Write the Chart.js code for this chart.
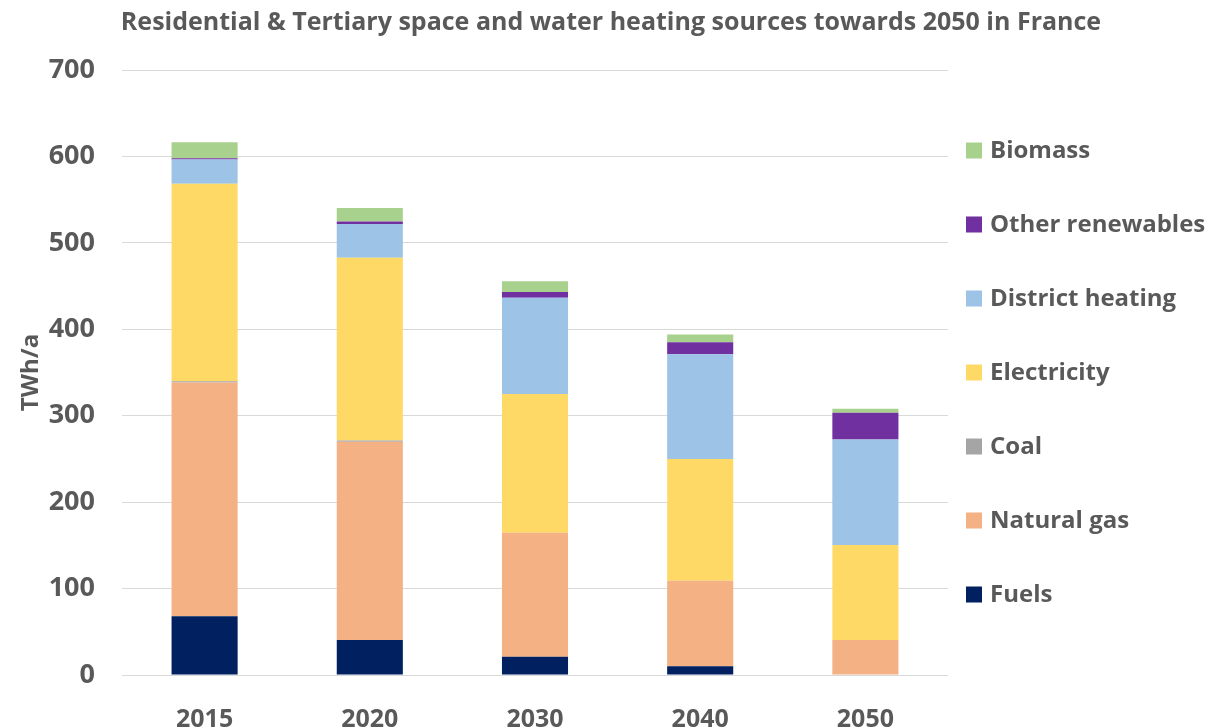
<!DOCTYPE html>
<html>
<head>
<meta charset="utf-8">
<script src="https://cdn.jsdelivr.net/npm/chart.js@4.4.1/dist/chart.umd.min.js"></script>
<style>
  html, body { margin: 0; padding: 0; background: #fff; }
  #wrap { width: 1222px; height: 728px; }
</style>
</head>
<body>
<div id="wrap"><canvas id="heatChart" width="1222" height="728"></canvas></div>
<script>
// values (TWh/a)
const years = ['2015', '2020', '2030', '2040', '2050'];
const fuels = [68, 40.5, 21, 10, 0];
const naturalGas = [270.5, 229.5, 143.5, 99, 40.5];
const coal = [1.5, 1.2, 0, 0, 0];
const electricity = [228.5, 211.5, 160.5, 141, 110];
const districtHeating = [28, 39, 111.5, 121, 122];
const otherRenewables = [1.5, 3, 6.5, 14, 31];
const biomass = [18.5, 15.5, 12.5, 9, 4.5];

const textColor = '#595959';
const font = 'Open Sans';

const series = [
    { label: 'Fuels', data: fuels, color: '#002060' },
    { label: 'Natural gas', data: naturalGas, color: '#F4B183' },
    { label: 'Coal', data: coal, color: '#A5A5A5' },
    { label: 'Electricity', data: electricity, color: '#FFD966' },
    { label: 'District heating', data: districtHeating, color: '#9DC3E6' },
    { label: 'Other renewables', data: otherRenewables, color: '#7030A0' },
    { label: 'Biomass', data: biomass, color: '#A9D18E' }
];

// legend on the right, top item = last series, drawn by hand to match spacing
const sideLegend = {
    id: 'sideLegend',
    afterDraw(chart) {
        const ctx = chart.ctx;
        const area = chart.chartArea;
        const sets = chart.data.datasets.slice().reverse();
        const mid = (area.top + area.bottom) / 2;
        const step = 74;
        ctx.save();
        ctx.font = 'bold 24px "' + font + '"';
        ctx.textBaseline = 'middle';
        ctx.textAlign = 'left';
        sets.forEach((ds, i) => {
            const y = mid + (i - (sets.length - 1) / 2) * step;
            ctx.fillStyle = ds.backgroundColor;
            ctx.fillRect(area.right + 18, y - 8, 16, 16);
            ctx.fillStyle = textColor;
            ctx.fillText(ds.label, area.right + 42, y + 1);
        });
        ctx.restore();
    }
};

new Chart(document.getElementById('heatChart'), {
    type: 'bar',
    data: {
        labels: years,
        datasets: series.map(s => ({
            label: s.label,
            data: s.data,
            backgroundColor: s.color,
            borderWidth: 0,
            stack: 'total',
            categoryPercentage: 1,
            barPercentage: 0.4
        }))
    },
    options: {
        responsive: false,
        animation: false,
        layout: { padding: 0 },
        plugins: {
            legend: { display: false },
            tooltip: { enabled: false },
            title: {
                display: true,
                text: 'Residential & Tertiary space and water heating sources towards 2050 in France',
                color: textColor,
                font: { family: font, size: 25, weight: 'bold' },
                padding: { top: 8, bottom: 32 }
            }
        },
        scales: {
            x: {
                stacked: true,
                grid: { display: false },
                border: { display: false },
                ticks: { color: textColor, font: { family: font, size: 25, weight: 'bold' }, padding: 22 },
                afterFit: s => { s.height = 53; }
            },
            y: {
                stacked: true,
                min: 0,
                max: 700,
                ticks: { stepSize: 100, color: textColor, font: { family: font, size: 27, weight: 'bold' }, padding: 27 },
                grid: { color: '#d9d9d9', lineWidth: 1, drawTicks: false },
                border: { display: false },
                title: {
                    display: true,
                    text: 'TWh/a',
                    color: textColor,
                    font: { family: font, size: 24, weight: 'bold' },
                    padding: { top: 17, bottom: 0 }
                },
                afterFit: s => { s.width = 122; }
            },
            // empty right-hand axis that only reserves room for the legend
            side: {
                position: 'right',
                display: true,
                grid: { display: false },
                border: { display: false },
                ticks: { display: false },
                afterFit: s => { s.width = 274; }
            }
        }
    },
    plugins: [sideLegend]
});
</script>
</body>
</html>
